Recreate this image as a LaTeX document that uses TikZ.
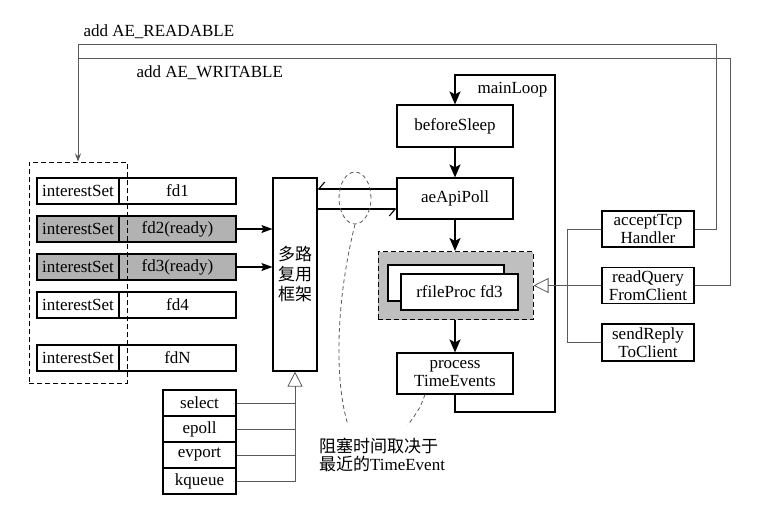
\documentclass[tikz,border=0pt]{standalone}
\usepackage{fontspec}
\setmainfont{Liberation Serif}
\newfontfamily\cjk{Noto Sans CJK SC}
\usetikzlibrary{arrows.meta,shapes.geometric}

\tikzset{
  every node/.style={font=\fontsize{17}{18}\selectfont},
  cell/.style={draw, line width=1.1pt, minimum height=26pt, inner sep=0pt},
  iscell/.style={cell, minimum width=82pt},
  fdcell/.style={cell, minimum width=117pt},
  ready/.style={fill=black!30},
  apibox/.style={cell, minimum width=73pt},
  stepbox/.style={draw, line width=1.1pt, minimum width=116pt, inner sep=0pt, align=center},
  hdlbox/.style={draw, line width=1.1pt, minimum width=92pt, minimum height=36pt, inner sep=0pt, align=center},
  thinln/.style={draw=black!65, line width=0.8pt},
  looparr/.style={line width=2pt, -{Stealth[length=13pt,width=11pt,inset=3pt]}},
  dataarr/.style={line width=1.1pt, -{Stealth[length=11pt,width=8pt,inset=2pt]}},
  harparr/.style={line width=1.1pt, -{Straight Barb[right,length=6pt,width=14pt]}},
  implarr/.style={thinln, -{Triangle[open,length=15pt,width=15pt]}},
}

\begin{document}
\begin{tikzpicture}[x=1pt, y=-1pt]
\useasboundingbox (0,0) rectangle (775,504);

% interest sets
\node[iscell] (is1) at (78,191) {interestSet};
\node[fdcell] (fd1) at (177.5,191) {fd1};
\node[iscell, ready] (is2) at (78,229) {interestSet};
\node[fdcell, ready] (fd2) at (177.5,229) {fd2(ready)};
\node[iscell, ready] (is3) at (78,267) {interestSet};
\node[fdcell, ready] (fd3) at (177.5,267) {fd3(ready)};
\node[iscell] (is4) at (78,305) {interestSet};
\node[fdcell] (fd4) at (177.5,305) {fd4};
\node[iscell] (isN) at (78,358) {interestSet};
\node[fdcell] (fdN) at (177.5,358) {fdN};
\node[draw, line width=1pt, dash pattern=on 5pt off 3pt, minimum width=98pt, minimum height=221pt] (ifset) at (78,272.5) {};

% multiplexing layer
\node[draw, line width=1.1pt, minimum width=44pt, minimum height=193pt, inner sep=0pt, align=center,
      font=\fontsize{17}{20}\selectfont\cjk] (mux) at (295,274.5) {多路\\复用\\框架};
\draw[dataarr] (fd2.east) -- (fd2.east -| mux.west);
\draw[dataarr] (fd3.east) -- (fd3.east -| mux.west);

\node[apibox] (sel) at (199.5,403) {select};
\node[apibox] (epl) at (199.5,429) {epoll};
\node[apibox] (evp) at (199.5,455) {evport};
\node[apibox] (kq) at (199.5,481) {kqueue};
\draw[implarr] (kq.east) -| (mux.south);
\draw[thinln] (sel.east) -- (sel.east -| mux.south);
\draw[thinln] (epl.east) -- (epl.east -| mux.south);
\draw[thinln] (evp.east) -- (evp.east -| mux.south);

% main loop
\node[stepbox, minimum height=42pt] (bs) at (455,126) {beforeSleep};
\node[stepbox, minimum height=41pt] (poll) at (455,198.5) {aeApiPoll};
\node[draw, line width=1pt, dash pattern=on 5pt off 3pt, fill=black!25, minimum width=155pt, minimum height=68pt] (grp) at (455.5,285.5) {};
\node[draw, line width=1.1pt, fill=white, minimum width=116pt, minimum height=36pt] (fpback) at (446,283) {};
\node[draw, line width=1.1pt, fill=white, minimum width=117pt, minimum height=36pt] (fproc) at (459.5,292) {rfileProc fd3};
\node[stepbox, minimum height=41pt] (proc) at (455,373.5) {process\\TimeEvents};
\node[anchor=east] (mlabel) at (551,90) {mainLoop};

\coordinate (lpbot) at (555,412);
\coordinate (lptop) at (555,75);
\draw[looparr] (proc.south) |- (lpbot) -- (lptop) -| (bs.north);
\draw[looparr] (bs) -- (poll);
\draw[looparr] (poll.south) -- (poll.south |- grp.north);
\draw[looparr] (proc.north |- grp.south) -- (proc.north);

\draw[harparr] ([yshift=9.5pt]poll.west) -- ([yshift=9.5pt]mux.east |- poll.west);
\draw[harparr] ([yshift=-10.5pt]mux.east |- poll.west) -- ([yshift=-10.5pt]poll.west);
\node[draw, thinln, dash pattern=on 4pt off 3pt, ellipse, minimum width=32pt, minimum height=52pt] (blk) at (355,198) {};

% blocking note
\node[align=left] (note) at (382,455) {{\cjk 阻塞时间取决于}\\{\cjk 最近的}TimeEvent};
\coordinate (nl) at (348,425);
\coordinate (nr) at (408,425);
\draw[thinln, dash pattern=on 4pt off 3pt] (blk.south) .. controls (336,300) and (334,380) .. (nl);
\draw[thinln, dash pattern=on 4pt off 3pt] ([xshift=-30pt]proc.south) .. controls (420,408) .. (nr);

% handlers
\node[hdlbox] (acc) at (648,229) {acceptTcp\\Handler};
\node[hdlbox] (rdq) at (648,285.5) {readQuery\\FromClient};
\node[hdlbox, minimum height=37pt] (snd) at (648,342.5) {sendReply\\ToClient};
\coordinate (bus) at (567,285.5);
\draw[thinln] (acc.west) -| (bus) |- (snd.west);
\draw[implarr] (rdq.west) -- (grp.east);

% event registration
\coordinate (rdturn) at (716,44);
\coordinate (wrturn) at (730,58);
\draw[thinln, -{Stealth[length=8pt,width=6pt]}] (acc.east) -| (rdturn) -| (ifset.north);
\draw[thinln] (rdq.east) -| (wrturn) -- (wrturn -| ifset.north);
\node[anchor=south west] (rdlbl) at (80,42) {add AE\_READABLE};
\node[anchor=north west] (wrlbl) at (133,62) {add AE\_WRITABLE};
\end{tikzpicture}
\end{document}
